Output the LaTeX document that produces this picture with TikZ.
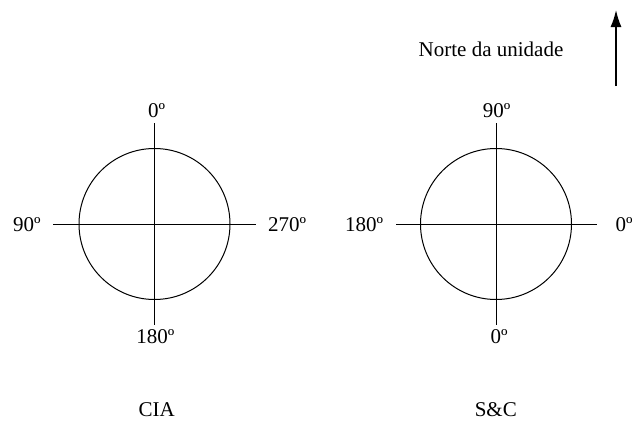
\documentclass[tikz,border=0pt]{standalone}
\usepackage{fontspec}
\setmainfont{Liberation Serif}
\usetikzlibrary{arrows.meta}

\begin{document}
\begin{tikzpicture}[x=1pt,y=-1pt,line width=1pt,font=\fontsize{21}{25}\selectfont]
    \useasboundingbox (0,0) rectangle (632,423);
    % CIA
    \node[draw,circle,inner sep=0pt,minimum size=151pt] (cia) at (154.5,224) {};
    \coordinate (ciaW) at (53,224);
    \coordinate (ciaE) at (256,224);
    \coordinate (ciaN) at (154.5,123);
    \coordinate (ciaS) at (154.5,325);
    \draw (ciaW) -- (ciaE);
    \draw (ciaN) -- (ciaS);
    \node (ciaT) at (156.7,111) {0º};
    \node (ciaL) at (26.8,225) {90º};
    \node (ciaR) at (287.2,225) {270º};
    \node (ciaB) at (155.3,337) {180º};
    \node (ciaLbl) at (156.7,410) {CIA};
    % S&C
    \node[draw,circle,inner sep=0pt,minimum size=151pt] (sc) at (496,224) {};
    \coordinate (scW) at (396,224);
    \coordinate (scE) at (597,224);
    \coordinate (scN) at (496,123);
    \coordinate (scS) at (496,325);
    \draw (scW) -- (scE);
    \draw (scN) -- (scS);
    \node (scT) at (496.7,111) {90º};
    \node (scL) at (364.2,225) {180º};
    \node (scR) at (624,225) {0º};
    \node (scB) at (499.2,337) {0º};
    \node (scLbl) at (495.8,410) {S\&C};
    % norte
    \node (norte) at (491,49) {Norte da unidade};
    \coordinate (nA) at (616,86);
    \coordinate (nB) at (616,10);
    \draw[line width=1.5pt,-{Latex[length=17pt,width=11pt]}] (nA) -- (nB);
\end{tikzpicture}
\end{document}
